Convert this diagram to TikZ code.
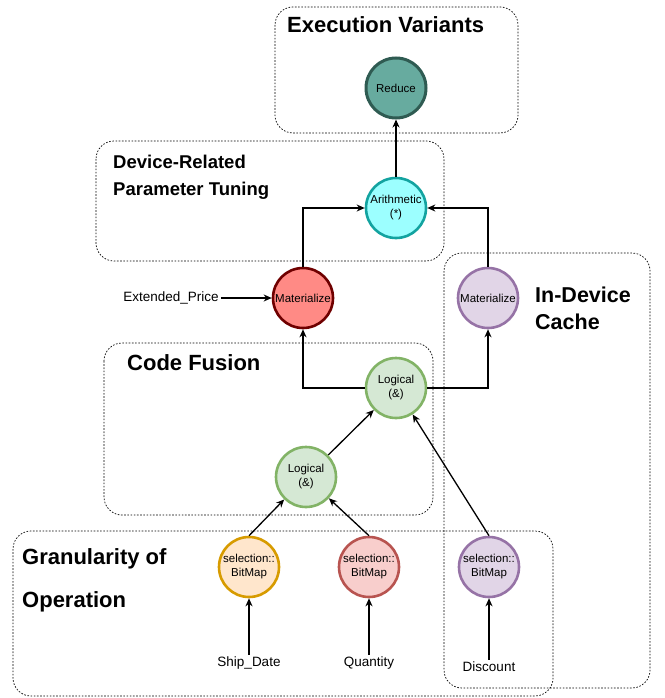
\documentclass[tikz,border=0pt]{standalone}
\usepackage{fontspec}
\setmainfont{Liberation Sans}
\usetikzlibrary{arrows.meta}

\definecolor{redfill}{HTML}{FF8A85}
\definecolor{redline}{HTML}{6F0000}
\definecolor{tealfill}{HTML}{67AB9F}
\definecolor{tealline}{HTML}{2F5B52}
\definecolor{cyanfill}{HTML}{9CFFFF}
\definecolor{cyanline}{HTML}{13A3A0}
\definecolor{greenfill}{HTML}{D5E8D4}
\definecolor{greenline}{HTML}{82B366}
\definecolor{purpfill}{HTML}{E1D5E7}
\definecolor{purpline}{HTML}{9673A6}
\definecolor{orangefill}{HTML}{FFE6CC}
\definecolor{orangeline}{HTML}{D79B00}
\definecolor{pinkfill}{HTML}{F8CECC}
\definecolor{pinkline}{HTML}{B85450}

\tikzset{
  group/.style={draw=black, line width=0.7pt, dash pattern=on 1.6pt off 1.6pt, rounded corners=18pt},
  op/.style={circle, minimum size=60pt, inner sep=0pt, line width=2.6pt, align=center,
             font=\fontsize{11.5}{14}\selectfont},
  title/.style={anchor=base west, inner sep=0pt, font=\bfseries},
  src/.style={inner sep=2pt, font=\fontsize{13.5}{16}\selectfont},
  conn/.style={draw=black, line width=1.3pt, -{Stealth[length=8pt,width=7pt,inset=2.5pt]}}
}

\begin{document}
\begin{tikzpicture}[x=1pt,y=-1pt]
  \useasboundingbox (0,0) rectangle (664,698);

  % dotted group frames
  \draw[group] (275,7) rectangle (518,133);
  \draw[group] (96,141) rectangle (444,261);
  \draw[group] (444,253) rectangle (650,688);
  \draw[group] (104,343) rectangle (433,515);
  \draw[group] (13,531) rectangle (553,696);

  % group titles
  \node[title, font=\fontsize{22}{26}\bfseries\selectfont] (tExec) at (287,33) {Execution Variants};
  \node[title, font=\fontsize{18.5}{22}\bfseries\selectfont] (tDev1) at (113,168) {Device-Related};
  \node[title, font=\fontsize{18.5}{22}\bfseries\selectfont] (tDev2) at (113,195) {Parameter Tuning};
  \node[title, font=\fontsize{21.5}{26}\bfseries\selectfont] (tCache1) at (535,302) {In-Device};
  \node[title, font=\fontsize{21.5}{26}\bfseries\selectfont] (tCache2) at (535,329) {Cache};
  \node[title, font=\fontsize{22}{26}\bfseries\selectfont] (tFusion) at (127,370) {Code Fusion};
  \node[title, font=\fontsize{22}{26}\bfseries\selectfont] (tGran1) at (22,564) {Granularity of};
  \node[title, font=\fontsize{22}{26}\bfseries\selectfont] (tGran2) at (22,607) {Operation};

  % operators
  \node[op, fill=tealfill, draw=tealline, line width=3pt] (reduce) at (396,88) {Reduce};
  \node[op, fill=cyanfill, draw=cyanline] (arith) at (396,208) {Arithmetic\\(*)};
  \node[op, fill=redfill, draw=redline] (matR) at (303,298) {Materialize};
  \node[op, fill=purpfill, draw=purpline] (matP) at (488,298) {Materialize};
  \node[op, fill=greenfill, draw=greenline] (logT) at (396,388) {Logical\\(\&)};
  \node[op, fill=greenfill, draw=greenline] (logB) at (306,477) {Logical\\(\&)};
  \node[op, fill=orangefill, draw=orangeline] (bmA) at (249,567) {selection::\\BitMap};
  \node[op, fill=pinkfill, draw=pinkline] (bmQ) at (369,567) {selection::\\BitMap};
  \node[op, fill=purpfill, draw=purpline] (bmP) at (489,567) {selection::\\BitMap};

  % input columns
  \node[src] (extp) at (171,298) {Extended\_Price};
  \node[src] (shipd) at (249,663) {Ship\_Date};
  \node[src] (qty) at (369,663) {Quantity};
  \node[src] (disc) at (489,667) {Discount};

  % connectors
  \draw[conn] (arith) -- (reduce);
  \draw[conn] (matR.north) |- (arith.west);
  \draw[conn] (matP.north) |- (arith.east);
  \draw[conn] (extp) -- (matR.west);
  \draw[conn] (logT.west) -| (matR.south);
  \draw[conn] (logT.east) -| (matP.south);
  \draw[conn] (logB) -- (logT);
  \draw[conn] (bmP.north) -- (logT);
  \draw[conn] (bmA.north) -- (logB);
  \draw[conn] (bmQ.north) -- (logB);
  \draw[conn] (shipd) -- (bmA);
  \draw[conn] (qty) -- (bmQ);
  \draw[conn] (disc) -- (bmP);
\end{tikzpicture}
\end{document}
